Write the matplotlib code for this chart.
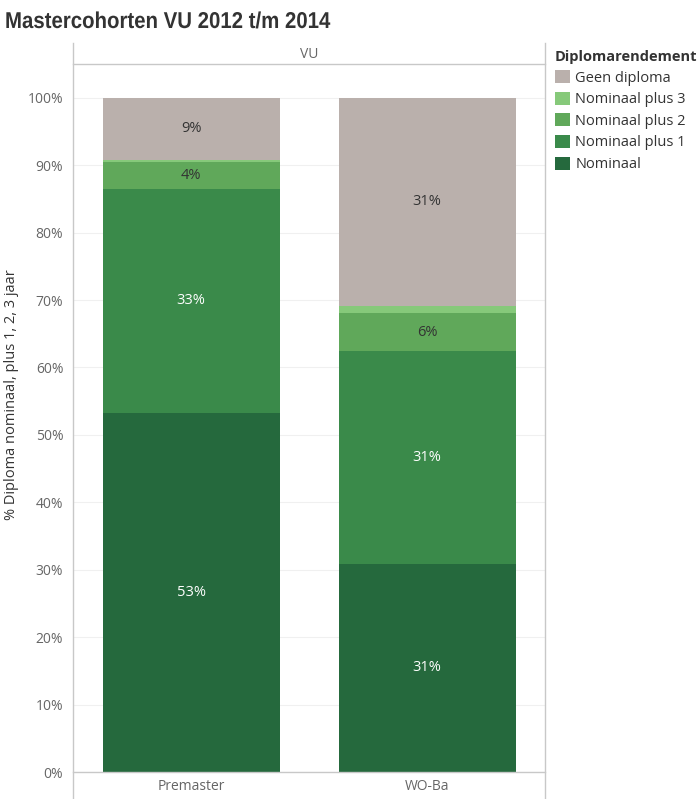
import matplotlib
matplotlib.use("Agg")
import matplotlib.pyplot as plt
from matplotlib.lines import Line2D
from matplotlib.patheffects import AbstractPathEffect
from matplotlib.transforms import Affine2D

categories = ["Premaster", "WO-Ba"]
series_names = ["Nominaal", "Nominaal plus 1", "Nominaal plus 2", "Nominaal plus 3", "Geen diploma"]
nominaal = [53.3, 30.9]
plus1 = [33.2, 31.5]
plus2 = [3.9, 5.6]
plus3 = [0.4, 1.1]
geen = [9.2, 30.9]
label_texts = {
    "Nominaal": ["53%", "31%"],
    "Nominaal plus 1": ["33%", "31%"],
    "Nominaal plus 2": ["4%", "6%"],
    "Nominaal plus 3": ["", ""],
    "Geen diploma": ["9%", "31%"],
}
yticks = [0, 10, 20, 30, 40, 50, 60, 70, 80, 90, 100]
ytick_labels = [f"{t}%" for t in yticks]

colors = {
    "Nominaal": "#25693D",
    "Nominaal plus 1": "#3A8A4A",
    "Nominaal plus 2": "#60A85A",
    "Nominaal plus 3": "#86C97A",
    "Geen diploma": "#BAB0AC",
}
text_colors = {
    "Nominaal": "white",
    "Nominaal plus 1": "white",
    "Nominaal plus 2": "#333333",
    "Nominaal plus 3": "#333333",
    "Geen diploma": "#333333",
}

plt.rcParams["font.family"] = ["Open Sans", "DejaVu Sans"]


class Squeeze(AbstractPathEffect):
    def __init__(self, sx, x0):
        super().__init__()
        self.sx = sx
        self.x0 = x0

    def draw_path(self, renderer, gc, tpath, affine, rgbFace=None):
        aff = affine + Affine2D().translate(-self.x0, 0).scale(self.sx, 1).translate(self.x0, 0)
        renderer.draw_path(gc, tpath, aff, rgbFace)


W, H = 698, 799
fig = plt.figure(figsize=(W / 100, H / 100), dpi=100)
fig.patch.set_facecolor("white")

def fx(px):
    return px / W

def fy(py):
    return 1 - py / H

ax_left, ax_right, ax_top, ax_bottom = 73, 545, 64, 772
ax = fig.add_axes([fx(ax_left), fy(ax_bottom), (ax_right - ax_left) / W, (ax_bottom - ax_top) / H])

data = {
    "Nominaal": nominaal,
    "Nominaal plus 1": plus1,
    "Nominaal plus 2": plus2,
    "Nominaal plus 3": plus3,
    "Geen diploma": geen,
}
x = list(range(len(categories)))
bottoms = [0.0] * len(categories)
handles = {}
for name in series_names:
    vals = data[name]
    bars = ax.bar(x, vals, bottom=bottoms, width=0.75, color=colors[name], label=name, zorder=2)
    handles[name] = bars
    for i, v in enumerate(vals):
        t = label_texts[name][i]
        if t:
            ax.text(x[i], bottoms[i] + v / 2, t, ha="center", va="center",
                    fontsize=10.5, color=text_colors[name], zorder=3)
    bottoms = [b + v for b, v in zip(bottoms, vals)]

ax.set_xlim(-0.5, 1.5)
ax.set_ylim(0, 105)
ax.set_yticks(yticks)
ax.set_yticklabels(ytick_labels, fontsize=10, color="#666666")
ax.tick_params(axis="y", length=0, pad=7)
ax.set_xticks([])
for s in ax.spines.values():
    s.set_visible(False)
ax.grid(axis="y", color="#F0F0F0", linewidth=0.8, zorder=0)
ax.set_axisbelow(True)

for i, c in enumerate(categories):
    ax.text(x[i], -2.2, c, ha="center", va="center", fontsize=10, color="#666666",
            transform=ax.transData, clip_on=False)

lc = "#C8C8C8"
fig.add_artist(Line2D([fx(ax_left), fx(ax_left)], [fy(43), 0], color=lc, lw=1))
fig.add_artist(Line2D([fx(ax_right), fx(ax_right)], [fy(43), 0], color=lc, lw=1))
fig.add_artist(Line2D([fx(ax_left), fx(ax_right)], [fy(ax_top), fy(ax_top)], color=lc, lw=1))
fig.add_artist(Line2D([fx(ax_left), fx(ax_right)], [fy(ax_bottom), fy(ax_bottom)], color=lc, lw=1))

fig.text(fx((ax_left + ax_right) / 2), fy(54), "VU", ha="center", va="center", fontsize=10, color="#666666")

title = fig.text(fx(5), fy(28), "Mastercohorten VU 2012 t/m 2014", ha="left", va="baseline",
                 fontsize=16.5, fontweight="bold", color="#333333",
                 family=["Liberation Sans", "DejaVu Sans"])
title.set_path_effects([Squeeze(0.89, 5)])

fig.text(fx(12), fy(395), "% Diploma nominaal, plus 1, 2, 3 jaar", rotation=90,
         ha="center", va="center", fontsize=10.5, color="#333333")

order = ["Geen diploma", "Nominaal plus 3", "Nominaal plus 2", "Nominaal plus 1", "Nominaal"]
leg = fig.legend([handles[n] for n in order], order, loc="upper left",
                 bbox_to_anchor=(fx(552), fy(47)), frameon=False, title="Diplomarendement",
                 fontsize=10.5, labelcolor="#333333", handlelength=1.0, handleheight=1.0,
                 handletextpad=0.4, labelspacing=0.42, borderaxespad=0, borderpad=0.2)
leg.get_title().set_fontweight("bold")
leg.get_title().set_fontsize(10.5)
leg.get_title().set_color("#333333")
leg._legend_box.align = "left"

fig.savefig("out.png", dpi=100)
